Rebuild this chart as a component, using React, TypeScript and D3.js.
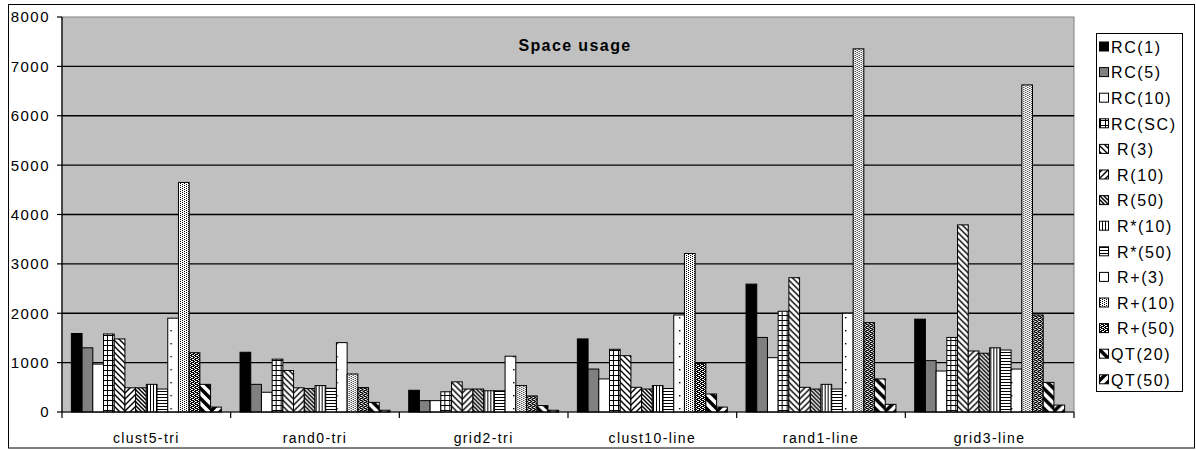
import React from 'react';
import * as d3 from 'd3';

// Categories along the x axis
const categories = ['clust5-tri', 'rand0-tri', 'grid2-tri', 'clust10-line', 'rand1-line', 'grid3-line'];

// Series names as shown in the legend
const seriesNames = [
  'RC(1)', 'RC(5)', 'RC(10)', 'RC(SC)', ' R(3)', ' R(10)', ' R(50)',
  ' R*(10)', ' R*(50)', ' R+(3)', ' R+(10)', ' R+(50)', 'QT(20)', 'QT(50)',
];

// Space usage per series, one value per category
const rc1 = [1590, 1210, 440, 1480, 2590, 1880];
const rc5 = [1300, 560, 230, 870, 1510, 1040];
const rc10 = [970, 400, 230, 670, 1100, 830];
const rcSC = [1580, 1070, 410, 1270, 2040, 1510];
const r3 = [1480, 840, 610, 1140, 2720, 3790];
const r10 = [490, 490, 465, 500, 500, 1235];
const r50 = [490, 475, 465, 465, 465, 1190];
const rs10 = [560, 535, 430, 535, 560, 1300];
const rs50 = [465, 480, 430, 475, 465, 1255];
const rp3 = [1900, 1405, 1130, 1965, 2000, 870];
const rp10 = [4650, 770, 535, 3210, 7355, 6625];
const rp50 = [1200, 495, 325, 985, 1810, 1965];
const qt20 = [560, 195, 130, 365, 670, 600];
const qt50 = [100, 35, 35, 100, 155, 140];

const seriesValues = [rc1, rc5, rc10, rcSC, r3, r10, r50, rs10, rs50, rp3, rp10, rp50, qt20, qt50];

const yTicks = [0, 1000, 2000, 3000, 4000, 5000, 6000, 7000, 8000];

const W = 1196;
const H = 450;
const plot = { left: 62, right: 1074, top: 17, bottom: 412 };

const FONT = 'Arial, "Liberation Sans", sans-serif';

export default function App() {
  const y = d3.scaleLinear().domain([0, 8000]).range([plot.bottom, plot.top]);
  const x0 = d3.scaleBand<string>().domain(categories).range([plot.left, plot.right]).paddingInner(0).paddingOuter(0);
  const x1 = d3
    .scaleBand<number>()
    .domain(d3.range(seriesNames.length))
    .range([0, x0.bandwidth()])
    .paddingInner(0)
    .paddingOuter(0.875);
  const bw = x1.bandwidth();

  // fill for each series (index matches seriesNames)
  const fillFor = (s: number, ci: number) => {
    switch (s) {
      case 0: return '#000';
      case 1: return '#808080';
      case 2: return '#fff';
      case 3: return 'url(#pGrid)';
      case 4: return 'url(#pDiagDownWide)';
      case 5: return 'url(#pDiagUp)';
      case 6: return 'url(#pDiagDownDark)';
      case 7: return 'url(#pVert)';
      case 8: return 'url(#pHorz)';
      case 9: return `url(#pDots${ci})`;
      case 10: return 'url(#pDotted)';
      case 11: return 'url(#pDark)';
      case 12: return 'url(#pStripeDown)';
      case 13: return 'url(#pStripeUp)';
      default: return '#fff';
    }
  };

  const legendTop = 33;
  const legendStep = 25.6;

  return (
    <svg
      width={W}
      height={H}
      style={{ position: 'absolute', left: 0, top: 0, background: '#fff' }}
      fontFamily={FONT}
    >
      <defs>
        <pattern id="pGrid" patternUnits="userSpaceOnUse" width={5} height={5}>
          <rect width={5} height={5} fill="#fff" />
          <rect x={0} y={0} width={1} height={5} fill="#000" />
          <rect x={0} y={0} width={5} height={1} fill="#000" />
        </pattern>
        <pattern id="pDiagDownWide" patternUnits="userSpaceOnUse" width={6} height={6}>
          <rect width={6} height={6} fill="#fff" />
          <path d="M-1,-1 L7,7 M-1,5 L1,7 M5,-1 L7,1" stroke="#000" strokeWidth={1.4} />
        </pattern>
        <pattern id="pDiagUp" patternUnits="userSpaceOnUse" width={6} height={6}>
          <rect width={6} height={6} fill="#fff" />
          <path d="M-1,7 L7,-1 M-1,1 L1,-1 M5,7 L7,5" stroke="#000" strokeWidth={1.4} />
        </pattern>
        <pattern id="pDiagDownDark" patternUnits="userSpaceOnUse" width={4} height={4}>
          <rect width={4} height={4} fill="#fff" />
          <path d="M-1,-1 L5,5 M-1,3 L1,5 M3,-1 L5,1" stroke="#000" strokeWidth={1.5} />
        </pattern>
        <pattern id="pVert" patternUnits="userSpaceOnUse" width={3} height={3}>
          <rect width={3} height={3} fill="#fff" />
          <rect x={1} width={1} height={3} fill="#000" />
        </pattern>
        <pattern id="pHorz" patternUnits="userSpaceOnUse" width={3} height={3}>
          <rect width={3} height={3} fill="#fff" />
          <rect y={1} width={3} height={1} fill="#000" />
        </pattern>
        {categories.map((c, ci) => (
          <pattern
            key={c}
            id={`pDots${ci}`}
            patternUnits="userSpaceOnUse"
            x={(x0(c) ?? 0) + (x1(9) ?? 0)}
            y={0}
            width={bw}
            height={13}
          >
            <rect width={bw} height={13} fill="#fff" />
            <rect x={bw / 2 - 0.5} y={5} width={1.4} height={1.4} fill="#000" />
          </pattern>
        ))}
        <pattern id="pDotted" patternUnits="userSpaceOnUse" width={4} height={2}>
          <rect width={4} height={2} fill="#fff" />
          <rect x={0} y={0} width={1} height={1} fill="#000" />
          <rect x={2} y={1} width={1} height={1} fill="#000" />
        </pattern>
        <pattern id="pDark" patternUnits="userSpaceOnUse" width={4} height={4}>
          <rect width={4} height={4} fill="#000" />
          <rect x={0} y={0} width={1} height={1} fill="#fff" />
          <rect x={2} y={1} width={1} height={1} fill="#fff" />
          <rect x={0} y={2} width={1} height={1} fill="#fff" />
          <rect x={2} y={3} width={1} height={1} fill="#fff" />
          <rect x={1} y={1} width={1} height={1} fill="#fff" />
          <rect x={3} y={3} width={1} height={1} fill="#fff" />
        </pattern>
        <pattern id="pStripeDown" patternUnits="userSpaceOnUse" width={10} height={10}>
          <rect width={10} height={10} fill="#fff" />
          <path d="M-2,-2 L12,12 M-2,8 L2,12 M8,-2 L12,2" stroke="#000" strokeWidth={3.5} />
        </pattern>
        <pattern id="pStripeUp" patternUnits="userSpaceOnUse" width={10} height={10}>
          <rect width={10} height={10} fill="#fff" />
          <path d="M-2,12 L12,-2 M-2,2 L2,-2 M8,12 L12,8" stroke="#000" strokeWidth={3.5} />
        </pattern>
      </defs>

      {/* outer chart frame */}
      <rect x={8.5} y={4.5} width={1186} height={443.5} fill="#fff" stroke="#000" strokeWidth={1} />

      {/* plot area */}
      <rect
        x={plot.left}
        y={plot.top}
        width={plot.right - plot.left}
        height={plot.bottom - plot.top}
        fill="#c0c0c0"
        stroke="#808080"
        strokeWidth={1}
      />

      {/* horizontal gridlines */}
      {yTicks.filter((t) => t > 0 && t < 8000).map((t) => (
        <line key={t} x1={plot.left} x2={plot.right} y1={y(t)} y2={y(t)} stroke="#000" strokeWidth={1.3} />
      ))}

      {/* title */}
      <text x={575} y={51} textAnchor="middle" fontSize={16} fontWeight="bold" letterSpacing={1.4}>
        Space usage
      </text>

      {/* bars */}
      {categories.map((c, ci) => (
        <g key={c} transform={`translate(${x0(c)},0)`}>
          {seriesValues.map((vals, s) => (
            <rect
              key={s}
              x={x1(s)}
              y={y(vals[ci])}
              width={bw}
              height={y(0) - y(vals[ci])}
              fill={fillFor(s, ci)}
              stroke="#000"
              strokeWidth={1}
            />
          ))}
        </g>
      ))}

      {/* y axis */}
      <line x1={plot.left} x2={plot.left} y1={plot.top} y2={plot.bottom} stroke="#000" strokeWidth={1.2} />
      {yTicks.map((t) => (
        <g key={t}>
          <line x1={plot.left - 5} x2={plot.left} y1={y(t)} y2={y(t)} stroke="#000" strokeWidth={1.2} />
          <text x={50} y={y(t)} dy="0.36em" textAnchor="end" fontSize={15} letterSpacing={1.5}>
            {t}
          </text>
        </g>
      ))}

      {/* x axis */}
      <line x1={plot.left} x2={plot.right} y1={plot.bottom} y2={plot.bottom} stroke="#000" strokeWidth={1.2} />
      {categories.map((c) => (
        <line
          key={`t-${c}`}
          x1={(x0(c) ?? 0) + x0.bandwidth()}
          x2={(x0(c) ?? 0) + x0.bandwidth()}
          y1={plot.bottom}
          y2={plot.bottom + 6}
          stroke="#000"
          strokeWidth={1.2}
        />
      ))}
      <line x1={plot.left} x2={plot.left} y1={plot.bottom} y2={plot.bottom + 6} stroke="#000" strokeWidth={1.2} />
      {categories.map((c) => (
        <text
          key={`l-${c}`}
          x={(x0(c) ?? 0) + x0.bandwidth() / 2}
          y={443}
          textAnchor="middle"
          fontSize={14}
          letterSpacing={1.4}
        >
          {c}
        </text>
      ))}

      {/* legend */}
      <rect x={1096.5} y={legendTop + 0.5} width={86} height={358} fill="#fff" stroke="#000" strokeWidth={1} />
      {seriesNames.map((name, s) => {
        const cy = legendTop + 14 + s * legendStep;
        return (
          <g key={name}>
            <rect
              x={1099.5}
              y={cy - 5}
              width={9}
              height={9}
              fill={s === 9 ? '#fff' : fillFor(s, 0)}
              stroke="#000"
              strokeWidth={1}
            />
            <text
              x={1111}
              y={cy}
              dy="0.36em"
              fontSize={16}
              letterSpacing={1.6}
              xmlSpace="preserve"
              style={{ whiteSpace: 'pre' }}
            >
              {name}
            </text>
          </g>
        );
      })}
    </svg>
  );
}
